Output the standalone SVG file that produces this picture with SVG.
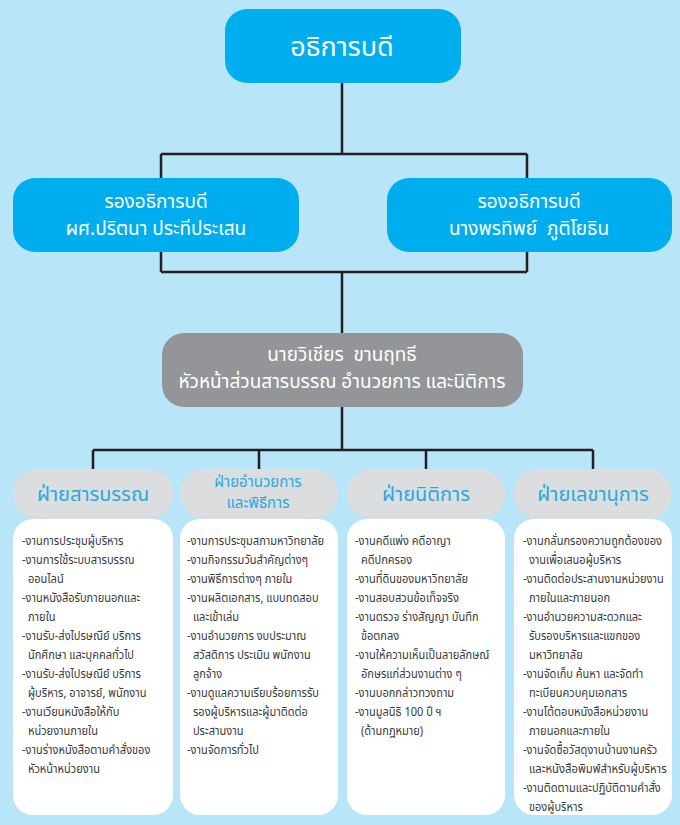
<svg xmlns="http://www.w3.org/2000/svg" width="680" height="825" viewBox="0 0 680 825">
<style>
.bg{fill:#b9e5f9}
.blue{fill:#00aeef}
.gray{fill:#939598}
.hdr{fill:#dcddde}
.card{fill:#ffffff}
.conn{stroke:#231f20;stroke-width:2.5;fill:none}
text{font-family:"Noto Sans Thai","Noto Sans Thai UI","Loma","Garuda","Norasi","Tlwg Typo",sans-serif}
.w{fill:#ffffff;text-anchor:middle}
.t1{font-size:27px}
.t2{font-size:19px}
.h{fill:#27aae1;text-anchor:middle;font-size:20px}
.hs{fill:#27aae1;text-anchor:middle;font-size:15px}
.b{fill:#3a3a3c;font-size:13px}
</style>
<rect class="bg" x="0" y="0" width="680" height="825"/>
<g id="connectors">
<path class="conn" d="M342 83 V154 M161 154 H527 M161 154 V180 M527 154 V180"/>
<path class="conn" d="M161 252 V272 M527 252 V272 M161 272 H527 M342 272 V334"/>
<path class="conn" d="M342 407 V450 M93 450 H593 M93 450 V470 M259 450 V470 M426 450 V470 M593 450 V470"/>
</g>
<g id="president">
<rect class="blue" x="225" y="9" width="236" height="74" rx="22"/>
<text class="w t1" x="342" y="56">อธิการบดี</text>
</g>
<g id="vp1">
<rect class="blue" x="13" y="178" width="286" height="74" rx="22"/>
<text class="w t2" x="156" y="208">รองอธิการบดี</text>
<text class="w t2" x="156" y="235">ผศ.ปริตนา ประทีประเสน</text>
</g>
<g id="vp2">
<rect class="blue" x="387" y="178" width="285" height="74" rx="22"/>
<text class="w t2" x="529" y="208">รองอธิการบดี</text>
<text class="w t2" x="529" y="235">นางพรทิพย์&#160; ภูติโยธิน</text>
</g>
<g id="head">
<rect class="gray" x="162" y="333" width="361" height="74" rx="22"/>
<text class="w t2" x="342" y="361">นายวิเชียร&#160; ขานฤทธี</text>
<text class="w t2" x="342" y="388">หัวหน้าส่วนสารบรรณ อำนวยการ และนิติการ</text>
</g>
<g id="col1">
<rect class="hdr" x="13" y="469" width="160" height="50" rx="25"/>
<text class="h" x="93" y="501">ฝ่ายสารบรรณ</text>
<rect class="card" x="13" y="519" width="160" height="296" rx="20"/>
<g transform="translate(22,0) scale(0.85,1)">
<text class="b" x="0" y="545">-งานการประชุมผู้บริหาร</text>
<text class="b" x="0" y="564">-งานการใช้ระบบสารบรรณ</text>
<text class="b" x="7" y="583">ออนไลน์</text>
<text class="b" x="0" y="602">-งานหนังสือรับภายนอกและ</text>
<text class="b" x="7" y="621">ภายใน</text>
<text class="b" x="0" y="640">-งานรับ-ส่งไปรษณีย์ บริการ</text>
<text class="b" x="7" y="659">นักศึกษา และบุคคลทั่วไป</text>
<text class="b" x="0" y="678">-งานรับ-ส่งไปรษณีย์ บริการ</text>
<text class="b" x="7" y="697">ผู้บริหาร, อาจารย์, พนักงาน</text>
<text class="b" x="0" y="716">-งานเวียนหนังสือให้กับ</text>
<text class="b" x="7" y="735">หน่วยงานภายใน</text>
<text class="b" x="0" y="754">-งานร่างหนังสือตามคำสั่งของ</text>
<text class="b" x="7" y="773">หัวหน้าหน่วยงาน</text>
</g>
</g>
<g id="col2">
<rect class="hdr" x="180" y="469" width="158" height="50" rx="25"/>
<text class="hs" x="258" y="487">ฝ่ายอำนวยการ</text>
<text class="hs" x="258" y="508">และพิธีการ</text>
<rect class="card" x="180" y="519" width="158" height="296" rx="20"/>
<g transform="translate(187,0) scale(0.85,1)">
<text class="b" x="0" y="545">-งานการประชุมสภามหาวิทยาลัย</text>
<text class="b" x="0" y="564">-งานกิจกรรมวันสำคัญต่างๆ</text>
<text class="b" x="0" y="583">-งานพิธีการต่างๆ ภายใน</text>
<text class="b" x="0" y="602">-งานผลิตเอกสาร, แบบทดสอบ</text>
<text class="b" x="7" y="621">และเข้าเล่ม</text>
<text class="b" x="0" y="640">-งานอำนวยการ งบประมาณ</text>
<text class="b" x="7" y="659">สวัสดิการ ประเมิน พนักงาน</text>
<text class="b" x="7" y="678">ลูกจ้าง</text>
<text class="b" x="0" y="697">-งานดูแลความเรียบร้อยการรับ</text>
<text class="b" x="7" y="716">รองผู้บริหารและผู้มาติดต่อ</text>
<text class="b" x="7" y="735">ประสานงาน</text>
<text class="b" x="0" y="754">-งานจัดการทั่วไป</text>
</g>
</g>
<g id="col3">
<rect class="hdr" x="347" y="469" width="158" height="50" rx="25"/>
<text class="h" x="426" y="501">ฝ่ายนิติการ</text>
<rect class="card" x="347" y="519" width="158" height="296" rx="20"/>
<g transform="translate(355,0) scale(0.85,1)">
<text class="b" x="0" y="545">-งานคดีแพ่ง คดีอาญา</text>
<text class="b" x="7" y="564">คดีปกครอง</text>
<text class="b" x="0" y="583">-งานที่ดินของมหาวิทยาลัย</text>
<text class="b" x="0" y="602">-งานสอบสวนข้อเท็จจริง</text>
<text class="b" x="0" y="621">-งานตรวจ ร่างสัญญา บันทึก</text>
<text class="b" x="7" y="640">ข้อตกลง</text>
<text class="b" x="0" y="659">-งานให้ความเห็นเป็นลายลักษณ์</text>
<text class="b" x="7" y="678">อักษรแก่ส่วนงานต่าง ๆ</text>
<text class="b" x="0" y="697">-งานบอกกล่าวทวงถาม</text>
<text class="b" x="0" y="716">-งานมูลนิธิ 100 ปี ฯ</text>
<text class="b" x="7" y="735">(ด้านกฎหมาย)</text>
</g>
</g>
<g id="col4">
<rect class="hdr" x="514" y="469" width="158" height="50" rx="25"/>
<text class="h" x="593" y="501">ฝ่ายเลขานุการ</text>
<rect class="card" x="514" y="519" width="158" height="296" rx="20"/>
<g transform="translate(523,0) scale(0.85,1)">
<text class="b" x="0" y="545">-งานกลั่นกรองความถูกต้องของ</text>
<text class="b" x="7" y="564">งานเพื่อเสนอผู้บริหาร</text>
<text class="b" x="0" y="583">-งานติดต่อประสานงานหน่วยงาน</text>
<text class="b" x="7" y="602">ภายในและภายนอก</text>
<text class="b" x="0" y="621">-งานอำนวยความสะดวกและ</text>
<text class="b" x="7" y="640">รับรองบริหารและแขกของ</text>
<text class="b" x="7" y="659">มหาวิทยาลัย</text>
<text class="b" x="0" y="678">-งานจัดเก็บ ค้นหา และจัดทำ</text>
<text class="b" x="7" y="697">ทะเบียนควบคุมเอกสาร</text>
<text class="b" x="0" y="716">-งานโต้ตอบหนังสือหน่วยงาน</text>
<text class="b" x="7" y="735">ภายนอกและภายใน</text>
<text class="b" x="0" y="754">-งานจัดซื้อวัสดุงานบ้านงานครัว</text>
<text class="b" x="7" y="773" textLength="162" lengthAdjust="spacingAndGlyphs">และหนังสือพิมพ์สำหรับผู้บริหาร</text>
<text class="b" x="0" y="792">-งานติดตามและปฏิบัติตามคำสั่ง</text>
<text class="b" x="7" y="811">ของผู้บริหาร</text>
</g>
</g>
</svg>
